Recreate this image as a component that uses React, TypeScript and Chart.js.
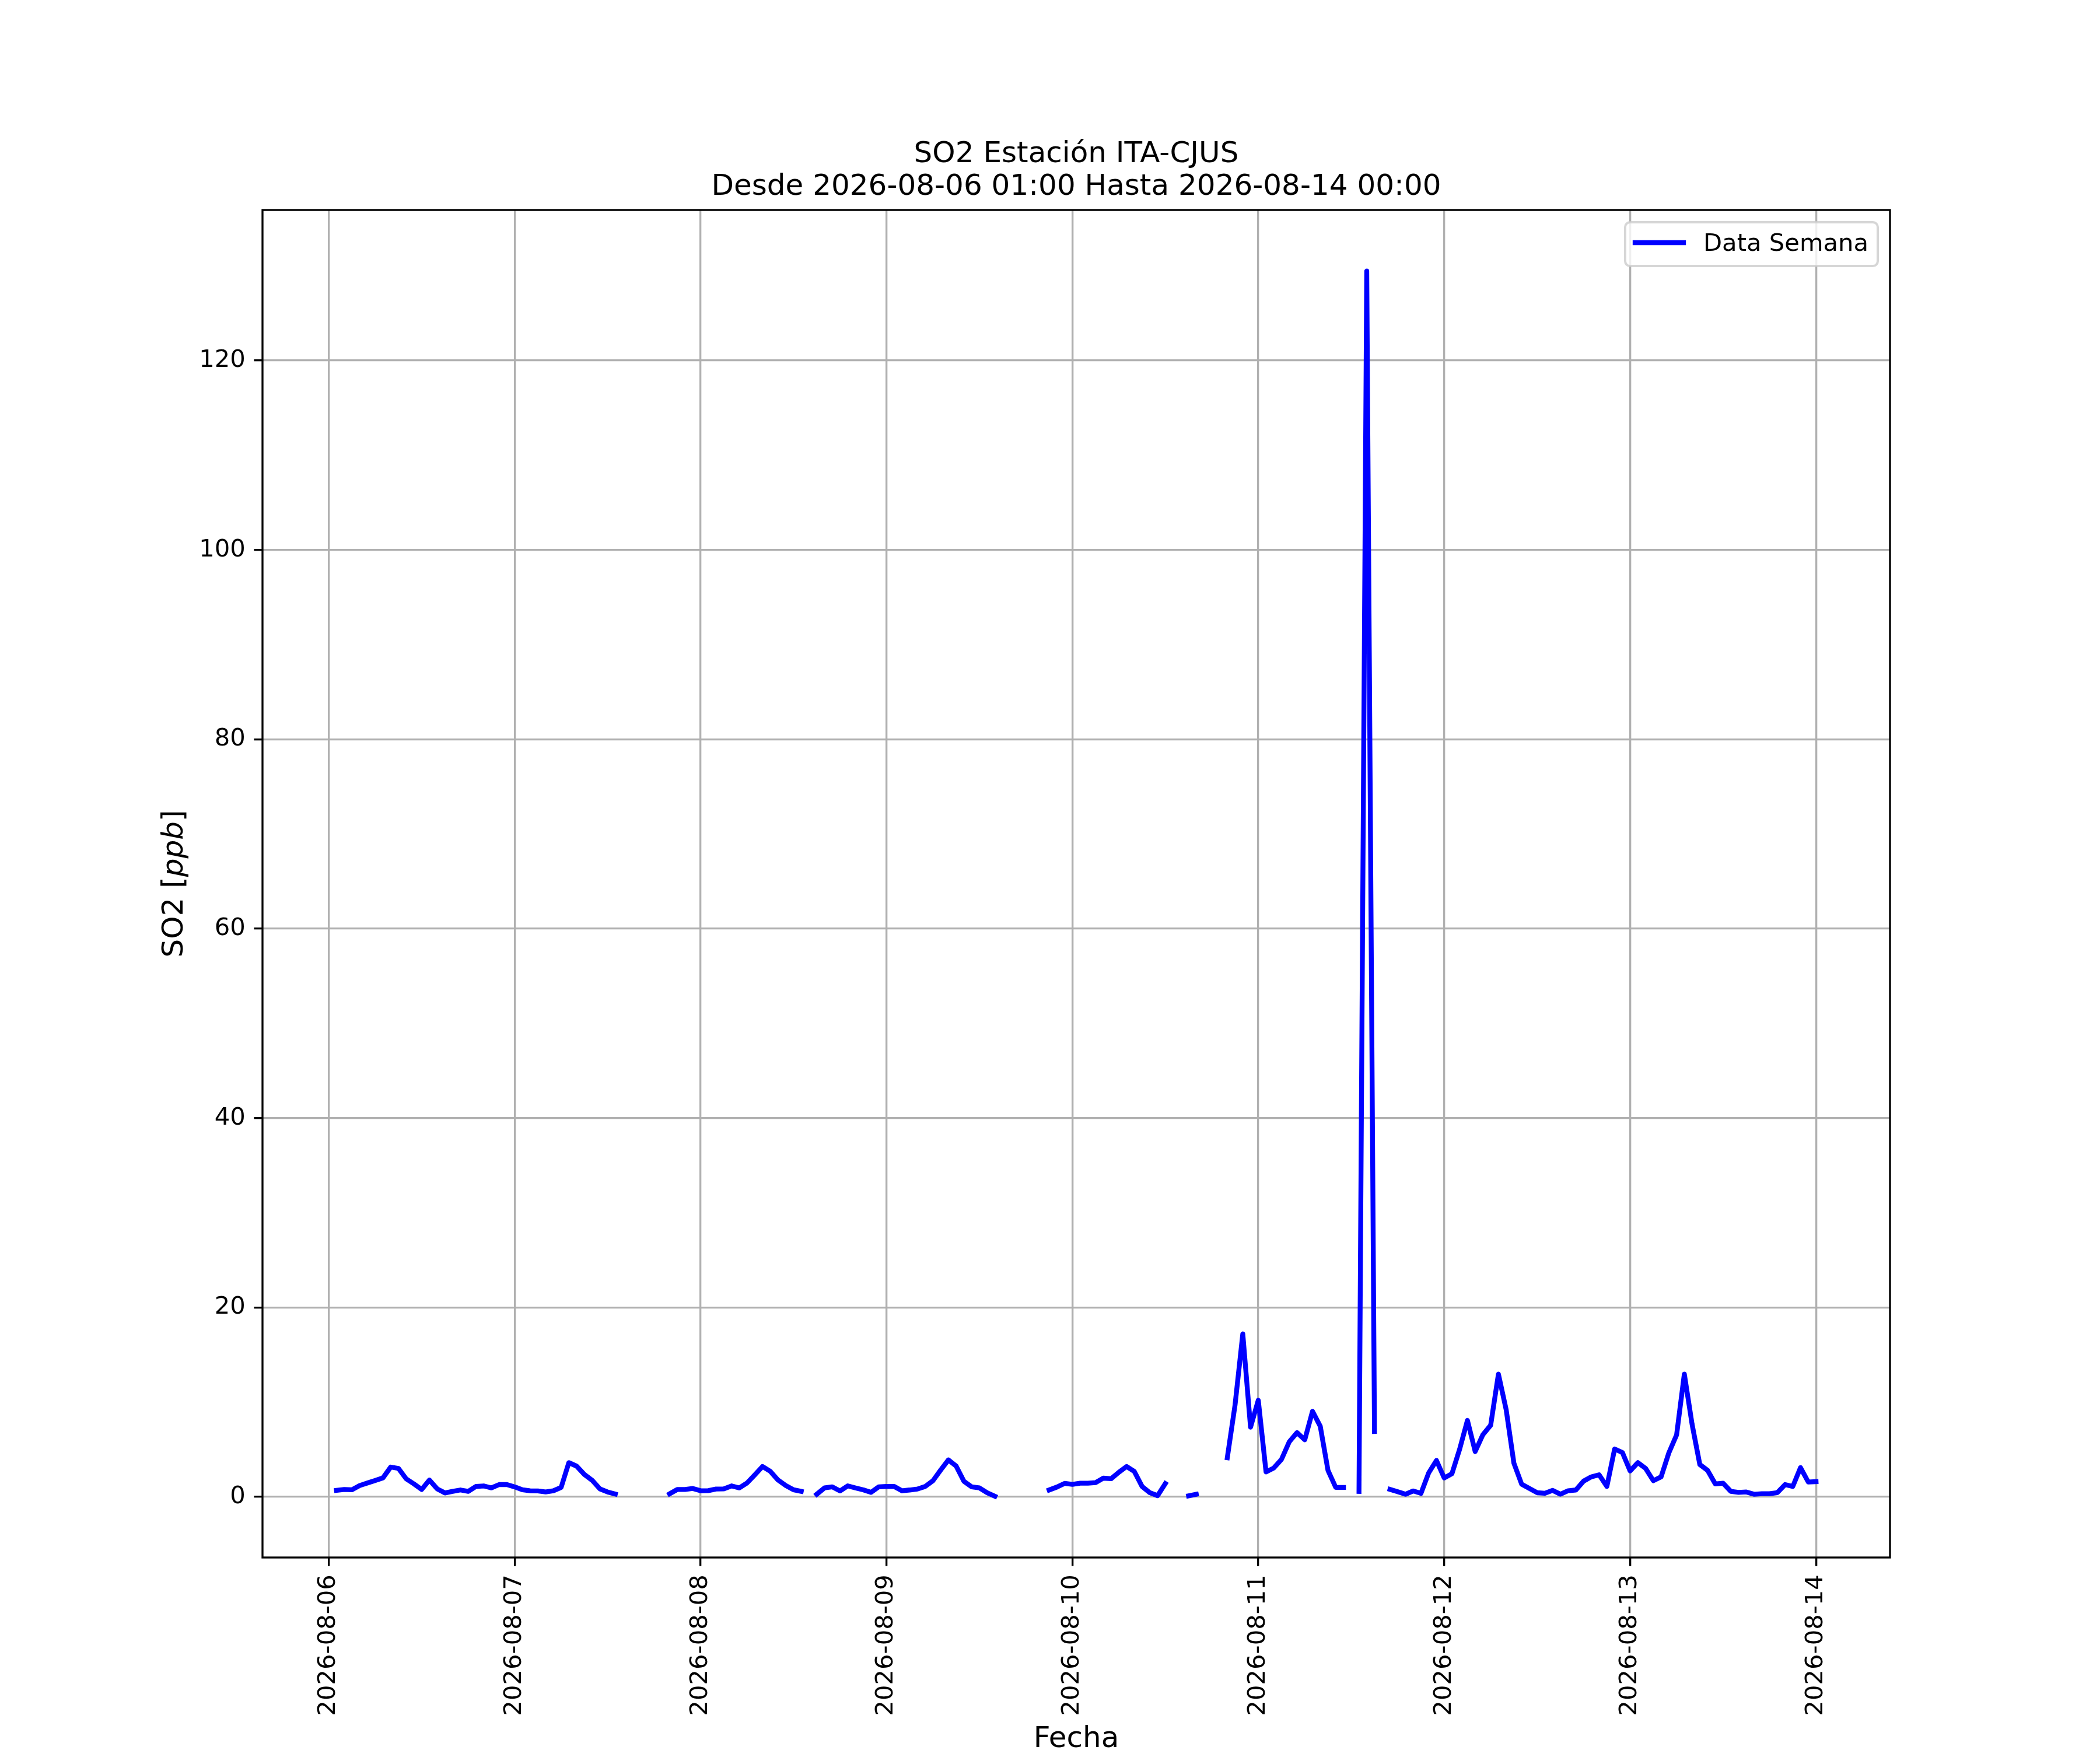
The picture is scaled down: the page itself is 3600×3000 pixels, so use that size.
import { useEffect, useRef } from "react";
import { Chart, registerables } from "chart.js";

Chart.register(...registerables);

// tamaño de la figura y del área de ejes (px)
const W = 3600;
const H = 3000;
const AREA = { left: 450, right: 3240, top: 360, bottom: 2670 };

const dayLabels = [
  "2026-08-06", "2026-08-07", "2026-08-08", "2026-08-09", "2026-08-10",
  "2026-08-11", "2026-08-12", "2026-08-13", "2026-08-14",
];

// SO2 horario desde 2026-08-06 01:00 (una fila por día, 24 valores)
const so2Values: (number | null)[] = [
  0.68, 0.78, 0.74, 1.19, 1.46, 1.72, 2.0, 3.14, 3.0, 1.9, 1.36, 0.78, 1.77, 0.84, 0.41, 0.57, 0.72, 0.57, 1.09, 1.15, 0.94, 1.29, 1.29, 1.05,
  0.74, 0.64, 0.62, 0.51, 0.64, 0.99, 3.61, 3.24, 2.36, 1.75, 0.84, 0.51, 0.29, null, null, null, null, null, null, 0.31, 0.78, 0.78, 0.88, 0.64,
  0.65, 0.82, 0.84, 1.15, 0.94, 1.46, 2.32, 3.2, 2.69, 1.77, 1.19, 0.74, 0.57, null, 0.27, 0.94, 1.05, 0.62, 1.15, 0.94, 0.74, 0.47, 1.05, 1.09,
  1.09, 0.64, 0.72, 0.82, 1.09, 1.7, 2.83, 3.9, 3.24, 1.64, 1.05, 0.94, 0.43, 0.06, null, null, null, null, null, null, 0.72, 1.03, 1.42, 1.32,
  1.44, 1.44, 1.5, 1.97, 1.91, 2.59, 3.2, 2.67, 1.09, 0.43, 0.12, 1.4, null, null, 0.1, 0.27, null, null, null, 4.13, 9.7, 17.2, 7.35, 10.2,
  2.63, 3.04, 3.96, 5.81, 6.78, 6.02, 9.03, 7.45, 2.79, 0.99, 0.99, null, 0.57, 129.45, 6.9, null, 0.78, 0.53, 0.27, 0.62, 0.37, 2.53, 3.84, 1.99,
  2.44, 5.05, 8.07, 4.78, 6.57, 7.56, 12.96, 9.2, 3.55, 1.33, 0.88, 0.43, 0.37, 0.68, 0.27, 0.64, 0.72, 1.66, 2.11, 2.32, 1.09, 5.05, 4.68, 2.73,
  3.61, 3.0, 1.7, 2.11, 4.64, 6.53, 12.96, 7.66, 3.41, 2.79, 1.36, 1.44, 0.57, 0.47, 0.51, 0.27, 0.33, 0.33, 0.43, 1.29, 1.09, 3.08, 1.56, 1.6,
];

// horas desde 2026-08-06 00:00
const hours = so2Values.map((_, i) => i + 1);
const yTicks = [0, 20, 40, 60, 80, 100, 120];

const FONT = "'DejaVu Sans'";
const LW = 8.33;

const decor = {
  id: "decor",
  afterDatasetsDraw(chart: Chart) {
    const { ctx, chartArea: a } = chart;
    ctx.save();
    // marco de ejes
    ctx.strokeStyle = "#000";
    ctx.lineWidth = 3.33;
    ctx.strokeRect(a.left, a.top, a.right - a.left, a.bottom - a.top);

    // leyenda
    const lx = 2786, ly = 381, lw = 433, lh = 75, r = 8.3;
    ctx.beginPath();
    ctx.roundRect(lx, ly, lw, lh, r);
    ctx.fillStyle = "rgba(255,255,255,0.8)";
    ctx.fill();
    ctx.strokeStyle = "rgba(204,204,204,0.8)";
    ctx.lineWidth = 4;
    ctx.stroke();
    ctx.beginPath();
    ctx.moveTo(2803, 416);
    ctx.lineTo(2886, 416);
    ctx.strokeStyle = "#0000ff";
    ctx.lineWidth = LW;
    ctx.lineCap = "square";
    ctx.stroke();
    ctx.fillStyle = "#000";
    ctx.font = `41.7px ${FONT}`;
    ctx.textAlign = "left";
    ctx.textBaseline = "alphabetic";
    ctx.fillText("Data Semana", 2920, 430);
    ctx.restore();
  },
  afterDraw(chart: Chart) {
    const { ctx } = chart;
    const cx = (AREA.left + AREA.right) / 2;
    ctx.save();
    ctx.fillStyle = "#000";
    ctx.font = `50px ${FONT}`;
    ctx.textAlign = "center";
    ctx.textBaseline = "alphabetic";
    ctx.fillText("SO2 Estación ITA-CJUS", cx, 278);
    ctx.fillText("Desde 2026-08-06 01:00 Hasta 2026-08-14 00:00", cx, 334);
    ctx.fillText("Fecha", cx, 2995);

    // etiqueta eje y: SO2 [ppb] con ppb en cursiva
    const parts: [string, string][] = [
      ["SO2 [", `50px ${FONT}`],
      ["ppb", `italic 50px ${FONT}`],
      ["]", `50px ${FONT}`],
    ];
    let total = 0;
    for (const [t, f] of parts) {
      ctx.font = f;
      total += ctx.measureText(t).width;
    }
    ctx.translate(313, (AREA.top + AREA.bottom) / 2);
    ctx.rotate(-Math.PI / 2);
    ctx.textAlign = "left";
    let x = -total / 2;
    for (const [t, f] of parts) {
      ctx.font = f;
      ctx.fillText(t, x, 0);
      x += ctx.measureText(t).width;
    }
    ctx.restore();
  },
};

export default function App() {
  const canvasRef = useRef<HTMLCanvasElement>(null);

  useEffect(() => {
    document.body.style.margin = "0";
    if (!canvasRef.current) return;
    const ctx = canvasRef.current.getContext("2d");
    if (!ctx) return;

    const tickFont = { family: FONT, size: 41.7 };
    const grid = {
      color: "#b0b0b0",
      lineWidth: 3.33,
      tickColor: "#000",
      tickWidth: 3.33,
      tickLength: 14.6,
    };

    const chart = new Chart(ctx, {
      type: "line",
      data: {
        datasets: [
          {
            label: "Data Semana",
            data: hours.map((h, i) => ({ x: h, y: so2Values[i] })),
            borderColor: "#0000ff",
            backgroundColor: "#0000ff",
            borderWidth: LW,
            pointRadius: 0,
            tension: 0,
            spanGaps: false,
            borderCapStyle: "square",
            borderJoinStyle: "round",
          },
        ],
      },
      options: {
        animation: false,
        responsive: false,
        devicePixelRatio: 1,
        layout: { padding: { left: 0, top: AREA.top, right: W - AREA.right, bottom: 0 } },
        plugins: {
          legend: { display: false },
          title: { display: false },
          tooltip: { enabled: false },
        },
        scales: {
          x: {
            type: "linear",
            min: -8.55,
            max: 201.55,
            bounds: "data",
            afterBuildTicks: (s: any) => {
              s.ticks = dayLabels.map((_, i) => ({ value: i * 24 }));
            },
            afterFit: (s: any) => {
              s.height = H - AREA.bottom;
            },
            ticks: {
              autoSkip: false,
              minRotation: 90,
              maxRotation: 90,
              padding: 14.6,
              color: "#000",
              font: tickFont,
              callback: (_v: any, i: number) => dayLabels[i],
            },
            grid,
            border: { display: false },
          },
          y: {
            type: "linear",
            min: -6.41,
            max: 135.9,
            bounds: "data",
            afterBuildTicks: (s: any) => {
              s.ticks = yTicks.map((v) => ({ value: v }));
            },
            afterFit: (s: any) => {
              s.width = AREA.left;
            },
            ticks: {
              padding: 14.6,
              color: "#000",
              font: tickFont,
              callback: (v: any) => String(v),
            },
            grid,
            border: { display: false },
          },
        },
      },
      plugins: [decor],
    });

    return () => {
      chart.destroy();
    };
  }, []);

  return (
    <div style={{ width: W, height: H, background: "#fff" }}>
      <canvas ref={canvasRef} width={W} height={H} style={{ width: W, height: H, display: "block" }} />
    </div>
  );
}
